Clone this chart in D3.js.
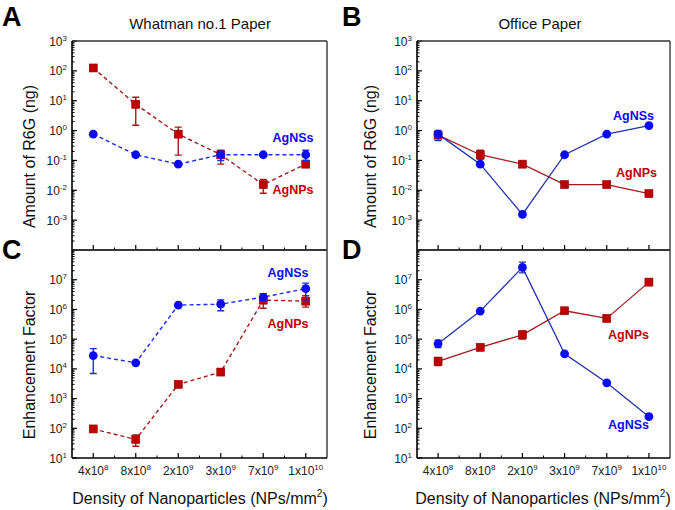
<!DOCTYPE html>
<html><head><meta charset="utf-8">
<script src="https://cdn.jsdelivr.net/npm/d3@7"></script>
<style>body{margin:0;background:#fff}svg{display:block}text{font-family:Arial,"Liberation Sans",sans-serif}</style>
</head><body><svg id="c" width="675" height="510"></svg>
<script>
const categories = ["4x10|8","8x10|8","2x10|9","3x10|9","7x10|9","1x10|10"];
// Panel A: Whatman no.1 paper, amount of R6G (ng)
const aNPs = [125, 7.6, 0.76, 0.155, 0.0155, 0.075];
const aNPsLo = [null, 1.5, 0.15, 0.075, 0.008, 0.065];
const aNPsHi = [null, 13, 1.3, 0.22, 0.023, 0.085];
const aNSs = [0.76, 0.155, 0.075, 0.155, 0.155, 0.155];
const aNSsLo = [null, null, null, 0.1, null, 0.1];
const aNSsHi = [null, null, null, 0.2, null, 0.22];
// Panel B: Office paper, amount of R6G (ng)
const bNSs = [0.76, 0.075, 0.00155, 0.155, 0.76, 1.47];
const bNSsLo = [0.46, null, null, null, null, null];
const bNSsHi = [1.0, null, null, null, null, null];
const bNPs = [0.7, 0.155, 0.075, 0.0155, 0.0155, 0.0077];
const bNPsLo = [null, 0.11, null, null, 0.013, null];
const bNPsHi = [null, 0.22, null, null, 0.018, null];
// Panel C: Whatman no.1 paper, enhancement factor
const cNSs = [2.8e4, 1.6e4, 1.4e6, 1.5e6, 2.6e6, 5e6];
const cNSsLo = [7e3, null, null, 9e5, 2e6, 2.1e6];
const cNSsHi = [4.8e4, null, null, 2.1e6, 3.4e6, 7.7e6];
const cNPs = [95, 42, 3000, 7.8e3, 2.05e6, 1.9e6];
const cNPsLo = [null, 25, null, 6.5e3, 1.1e6, 1.2e6];
const cNPsHi = [null, 60, null, 9e3, 3.4e6, 2.9e6];
// Panel D: Office paper, enhancement factor
const dNSs = [7e4, 8.8e5, 2.6e7, 3.2e4, 3.4e3, 245];
const dNSsLo = [5.2e4, null, 1.7e7, null, null, null];
const dNSsHi = [9.2e4, null, 3.9e7, null, null, null];
const dNPs = [1.8e4, 5.3e4, 1.4e5, 9e5, 5e5, 8.3e6];
const dNPsLo = [1.3e4, null, 1.0e5, null, null, null];
const dNPsHi = [2.4e4, null, 1.9e5, null, null, null];

const panelTitles = ["Whatman no.1 Paper", "Office Paper"];
const yTitles = ["Amount of R6G (ng)", "Enhancement Factor"];
const xTitle = "Density of Nanoparticles (NPs/mm";

const BLUE = "#0a0af5", BLUE_LINE_DASH = "#1a2af0", BLUE_LINE = "#2233aa";
const RED = "#c00000", RED_LINE = "#a31b1b";

const svg = d3.select("#c");

function panel(o) {
  const g = svg.append("g");
  const x = d3.scaleLinear().domain([-0.5, 5.5]).range([o.x0, o.x1]);
  const y = d3.scaleLog().domain(o.yDomain).range([o.y1, o.y0]);
  const lo = Math.log10(o.yDomain[0]), hi = Math.log10(o.yDomain[1]);
  const minor = [];
  for (let e = lo; e < hi; e++) for (let m = 2; m <= 9; m++) minor.push(m * Math.pow(10, e));
  g.selectAll(".ymin").data(minor).join("line")
    .attr("x1", o.x0).attr("x2", o.x0 + 2.5).attr("y1", d => y(d)).attr("y2", d => y(d))
    .attr("stroke", "#000").attr("stroke-width", 1);
  const majors = d3.range(lo, hi + 1).map(e => Math.pow(10, e));
  g.selectAll(".ymaj").data(majors).join("line")
    .attr("x1", o.x0).attr("x2", o.x0 + 5).attr("y1", d => y(d)).attr("y2", d => y(d))
    .attr("stroke", "#000").attr("stroke-width", 1.2);
  const labelled = majors.filter(d => o.yLabels.includes(Math.round(Math.log10(d))));
  const yl = g.selectAll(".ylab").data(labelled).join("text")
    .attr("x", o.x0 - 5).attr("y", d => y(d) + 4.5).attr("text-anchor", "end")
    .attr("font-size", 12).attr("fill", "#222");
  yl.append("tspan").text("10");
  yl.append("tspan").attr("dy", -5).attr("font-size", 8).text(d => String(Math.round(Math.log10(d))));
  const xs = d3.range(6);
  const xmin = d3.range(5).map(i => i + 0.5);
  g.selectAll(".xmaj").data(xs).join("line")
    .attr("x1", d => x(d)).attr("x2", d => x(d)).attr("y1", o.y1).attr("y2", o.y1 - 5)
    .attr("stroke", "#000").attr("stroke-width", 1.2);
  g.selectAll(".xmin").data(xmin).join("line")
    .attr("x1", d => x(d)).attr("x2", d => x(d)).attr("y1", o.y1).attr("y2", o.y1 - 2.5)
    .attr("stroke", "#000").attr("stroke-width", 1);
  if (o.xLabels) {
    const xl = g.selectAll(".xlab").data(categories).join("text")
      .attr("x", (d, i) => x(i)).attr("y", o.y1 + 17).attr("text-anchor", "middle")
      .attr("font-size", 12).attr("fill", "#222");
    xl.append("tspan").text(d => d.split("|")[0]);
    xl.append("tspan").attr("dy", -5).attr("font-size", 8).text(d => d.split("|")[1]);
  }
  g.append("line").attr("x1", o.x0).attr("x2", o.x1).attr("y1", o.y0).attr("y2", o.y0).attr("stroke", "#333").attr("stroke-width", 1.5);
  g.append("line").attr("x1", o.x1).attr("x2", o.x1).attr("y1", o.y0).attr("y2", o.y1).attr("stroke", "#444").attr("stroke-width", 1.5);
  g.append("line").attr("x1", o.x0).attr("x2", o.x1).attr("y1", o.y1).attr("y2", o.y1).attr("stroke", "#000").attr("stroke-width", 1.6);
  g.append("line").attr("x1", o.x0).attr("x2", o.x0).attr("y1", o.y0).attr("y2", o.y1).attr("stroke", "#000").attr("stroke-width", 1.6);

  g.append("text").attr("transform", `translate(${o.x0 - o.titleOff},${(o.y0 + o.y1) / 2 + 11}) rotate(-90)`)
    .attr("text-anchor", "middle").attr("font-size", 16).attr("fill", "#111").text(o.yTitle);

  const line = d3.line().x((d, i) => x(i)).y(d => y(d));
  o.series.forEach(s => {
    const sg = g.append("g");
    sg.append("path").attr("d", line(s.v)).attr("fill", "none")
      .attr("stroke", s.line).attr("stroke-width", o.dashed ? 1.4 : 1.3)
      .attr("stroke-dasharray", o.dashed ? "4,3" : null);
    const err = s.v.map((v, i) => ({ i, lo: s.lo[i], hi: s.hi[i] })).filter(e => e.lo != null);
    sg.selectAll(".eb").data(err).join("path")
      .attr("d", e => `M${x(e.i)},${y(e.lo)}V${y(e.hi)}M${x(e.i) - 3.5},${y(e.lo)}H${x(e.i) + 3.5}M${x(e.i) - 3.5},${y(e.hi)}H${x(e.i) + 3.5}`)
      .attr("stroke", s.line).attr("stroke-width", 1.4).attr("fill", "none");
    if (s.shape === "circle") {
      sg.selectAll(".m").data(s.v).join("circle")
        .attr("cx", (d, i) => x(i)).attr("cy", d => y(d)).attr("r", 4.4).attr("fill", s.color);
    } else {
      sg.selectAll(".m").data(s.v).join("rect")
        .attr("x", (d, i) => x(i) - 4).attr("y", d => y(d) - 4).attr("width", 8).attr("height", 8)
        .attr("fill", s.color).attr("stroke", "#8a0000").attr("stroke-width", 0.6);
    }
    g.append("text").attr("x", x(s.lab[0])).attr("y", y(s.lab[1])).attr("font-size", 12.5)
      .attr("font-weight", "bold").attr("fill", s.color).text(s.name);
  });
}

panel({ x0: 72, x1: 327, y0: 41, y1: 250, yDomain: [1e-4, 1e3], yLabels: [-3,-2,-1,0,1,2,3], dashed: true,
  yTitle: yTitles[0], xLabels: false, titleOff: 37,
  series: [
    { name: "AgNPs", shape: "square", color: RED, line: RED_LINE, v: aNPs, lo: aNPsLo, hi: aNPsHi, lab: [4.22, 0.0074] },
    { name: "AgNSs", shape: "circle", color: BLUE, line: BLUE_LINE_DASH, v: aNSs, lo: aNSsLo, hi: aNSsHi, lab: [4.22, 0.4] }
  ] });
panel({ x0: 417, x1: 670, y0: 41, y1: 250, yDomain: [1e-4, 1e3], yLabels: [-3,-2,-1,0,1,2,3], dashed: false,
  yTitle: yTitles[0], xLabels: false, titleOff: 41,
  series: [
    { name: "AgNPs", shape: "square", color: RED, line: RED_LINE, v: bNPs, lo: bNPsLo, hi: bNPsHi, lab: [4.22, 0.027] },
    { name: "AgNSs", shape: "circle", color: BLUE, line: BLUE_LINE, v: bNSs, lo: bNSsLo, hi: bNSsHi, lab: [4.15, 2.3] }
  ] });
panel({ x0: 72, x1: 327, y0: 250, y1: 458, yDomain: [10, 1e8], yLabels: [1,2,3,4,5,6,7], dashed: true,
  yTitle: yTitles[1], xLabels: true, titleOff: 37,
  series: [
    { name: "AgNPs", shape: "square", color: RED, line: RED_LINE, v: cNPs, lo: cNPsLo, hi: cNPsHi, lab: [4.1, 2.4e5] },
    { name: "AgNSs", shape: "circle", color: BLUE, line: BLUE_LINE_DASH, v: cNSs, lo: cNSsLo, hi: cNSsHi, lab: [4.1, 1.2e7] }
  ] });
panel({ x0: 417, x1: 670, y0: 250, y1: 458, yDomain: [10, 1e8], yLabels: [1,2,3,4,5,6,7], dashed: false,
  yTitle: yTitles[1], xLabels: true, titleOff: 41,
  series: [
    { name: "AgNPs", shape: "square", color: RED, line: RED_LINE, v: dNPs, lo: dNPsLo, hi: dNPsHi, lab: [4.03, 1e5] },
    { name: "AgNSs", shape: "circle", color: BLUE, line: BLUE_LINE, v: dNSs, lo: dNSsLo, hi: dNSsHi, lab: [4.03, 95] }
  ] });

svg.append("text").attr("x", 200).attr("y", 29).attr("text-anchor", "middle").attr("font-size", 15).attr("fill", "#111").text(panelTitles[0]);
svg.append("text").attr("x", 540).attr("y", 29).attr("text-anchor", "middle").attr("font-size", 15).attr("fill", "#111").text(panelTitles[1]);
[200, 543].forEach(cx => {
  const t = svg.append("text").attr("x", cx).attr("y", 504).attr("text-anchor", "middle").attr("font-size", 16).attr("fill", "#111");
  t.append("tspan").text(xTitle);
  t.append("tspan").attr("dy", -7).attr("font-size", 10).text("2");
  t.append("tspan").attr("dy", 7).text(")");
});
[["A", 2, 26], ["B", 342, 26], ["C", 2, 259], ["D", 342, 259]].forEach(([l, px, py]) => {
  svg.append("text").attr("x", px).attr("y", py).attr("font-size", 27).attr("font-weight", "bold").attr("fill", "#000").text(l);
});
</script></body></html>
